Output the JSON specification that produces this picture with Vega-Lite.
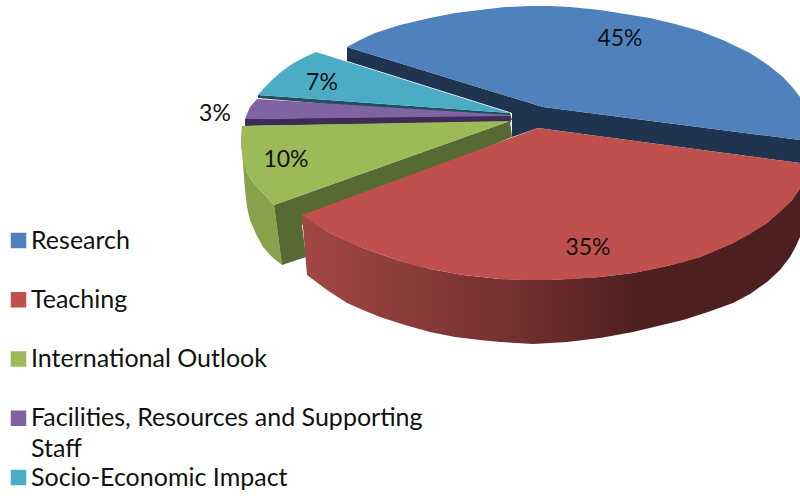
{
  "$schema": "https://vega.github.io/schema/vega-lite/v6.json",
  "width": 800,
  "height": 496,
  "padding": 0,
  "autosize": {"type": "none"},
  "background": "white",
  "view": {"stroke": null},
  "datasets": {
    "sides": [
      {"part":"blueCut","seq":1,"px":347,"py":47},{"part":"blueCut","seq":2,"px":543,"py":107},{"part":"blueCut","seq":3,"px":800,"py":140},{"part":"blueCut","seq":4,"px":800,"py":163},{"part":"blueCut","seq":5,"px":538,"py":128},{"part":"blueCut","seq":6,"px":512,"py":137},{"part":"blueCut","seq":7,"px":512,"py":113},{"part":"blueCut","seq":8,"px":347,"py":61},
      {"part":"tealCut","seq":1,"px":258,"py":95},{"part":"tealCut","seq":2,"px":510,"py":113},{"part":"tealCut","seq":3,"px":512,"py":120},{"part":"tealCut","seq":4,"px":258,"py":98},
      {"part":"purpleCut","seq":1,"px":245,"py":119},{"part":"purpleCut","seq":2,"px":510,"py":115},{"part":"purpleCut","seq":3,"px":511,"py":122},{"part":"purpleCut","seq":4,"px":245,"py":126},
      {"part":"greenOuter","seq":1,"px":242,"py":150},{"part":"greenOuter","seq":2,"px":247,"py":173},{"part":"greenOuter","seq":3,"px":253,"py":182},{"part":"greenOuter","seq":4,"px":260,"py":190},{"part":"greenOuter","seq":5,"px":274,"py":205},{"part":"greenOuter","seq":6,"px":282,"py":265},{"part":"greenOuter","seq":7,"px":272,"py":257},{"part":"greenOuter","seq":8,"px":263,"py":247},{"part":"greenOuter","seq":9,"px":256,"py":234},{"part":"greenOuter","seq":10,"px":250,"py":220},{"part":"greenOuter","seq":11,"px":247,"py":207},{"part":"greenOuter","seq":12,"px":245,"py":190},
      {"part":"greenCut","seq":1,"px":274,"py":205},{"part":"greenCut","seq":2,"px":510,"py":121},{"part":"greenCut","seq":3,"px":512,"py":137},{"part":"greenCut","seq":4,"px":302,"py":225},{"part":"greenCut","seq":5,"px":306,"py":257},{"part":"greenCut","seq":6,"px":282,"py":265}
    ],
    "redWall": [
      {"seq":1,"px":302,"py":215},{"seq":2,"px":330,"py":233},{"seq":3,"px":363,"py":248},{"seq":4,"px":397,"py":260},{"seq":5,"px":430,"py":269},{"seq":6,"px":463,"py":275},{"seq":7,"px":500,"py":279},{"seq":8,"px":550,"py":280},{"seq":9,"px":600,"py":277},{"seq":10,"px":633,"py":273},{"seq":11,"px":667,"py":266},{"seq":12,"px":700,"py":257},{"seq":13,"px":733,"py":243},{"seq":14,"px":767,"py":223},{"seq":15,"px":792,"py":200},{"seq":16,"px":800,"py":188},
      {"seq":17,"px":800,"py":237},{"seq":18,"px":796,"py":246},{"seq":19,"px":790,"py":257},{"seq":20,"px":780,"py":270},{"seq":21,"px":767,"py":282},{"seq":22,"px":750,"py":294},{"seq":23,"px":733,"py":303},{"seq":24,"px":708,"py":312},{"seq":25,"px":683,"py":320},{"seq":26,"px":658,"py":326},{"seq":27,"px":633,"py":332},{"seq":28,"px":600,"py":338},{"seq":29,"px":567,"py":342},{"seq":30,"px":550,"py":343},{"seq":31,"px":533,"py":344},{"seq":32,"px":500,"py":342},{"seq":33,"px":480,"py":340},{"seq":34,"px":455,"py":337},{"seq":35,"px":430,"py":332},{"seq":36,"px":405,"py":325},{"seq":37,"px":380,"py":317},{"seq":38,"px":363,"py":310},{"seq":39,"px":347,"py":303},{"seq":40,"px":327,"py":290},{"seq":41,"px":307,"py":275}
    ],
    "tops": [
      {"slice":"Research","seq":1,"px":347,"py":47},{"slice":"Research","seq":2,"px":360,"py":40},{"slice":"Research","seq":3,"px":375,"py":33},{"slice":"Research","seq":4,"px":400,"py":25},{"slice":"Research","seq":5,"px":430,"py":18},{"slice":"Research","seq":6,"px":455,"py":13},{"slice":"Research","seq":7,"px":480,"py":10},{"slice":"Research","seq":8,"px":505,"py":7},{"slice":"Research","seq":9,"px":530,"py":6},{"slice":"Research","seq":10,"px":550,"py":6},{"slice":"Research","seq":11,"px":570,"py":7},{"slice":"Research","seq":12,"px":600,"py":10},{"slice":"Research","seq":13,"px":625,"py":14},{"slice":"Research","seq":14,"px":650,"py":18},{"slice":"Research","seq":15,"px":675,"py":24},{"slice":"Research","seq":16,"px":700,"py":31},{"slice":"Research","seq":17,"px":725,"py":41},{"slice":"Research","seq":18,"px":750,"py":53},{"slice":"Research","seq":19,"px":768,"py":65},{"slice":"Research","seq":20,"px":783,"py":77},{"slice":"Research","seq":21,"px":793,"py":88},{"slice":"Research","seq":22,"px":800,"py":97},{"slice":"Research","seq":23,"px":800,"py":140},{"slice":"Research","seq":24,"px":543,"py":107},
      {"slice":"Teaching","seq":1,"px":302,"py":215},{"slice":"Teaching","seq":2,"px":538,"py":128},{"slice":"Teaching","seq":3,"px":800,"py":163},{"slice":"Teaching","seq":4,"px":800,"py":188},{"slice":"Teaching","seq":5,"px":792,"py":200},{"slice":"Teaching","seq":6,"px":780,"py":212},{"slice":"Teaching","seq":7,"px":767,"py":223},{"slice":"Teaching","seq":8,"px":750,"py":234},{"slice":"Teaching","seq":9,"px":733,"py":243},{"slice":"Teaching","seq":10,"px":717,"py":250},{"slice":"Teaching","seq":11,"px":700,"py":257},{"slice":"Teaching","seq":12,"px":684,"py":262},{"slice":"Teaching","seq":13,"px":667,"py":266},{"slice":"Teaching","seq":14,"px":650,"py":270},{"slice":"Teaching","seq":15,"px":633,"py":273},{"slice":"Teaching","seq":16,"px":617,"py":275},{"slice":"Teaching","seq":17,"px":600,"py":277},{"slice":"Teaching","seq":18,"px":575,"py":279},{"slice":"Teaching","seq":19,"px":550,"py":280},{"slice":"Teaching","seq":20,"px":525,"py":280},{"slice":"Teaching","seq":21,"px":500,"py":279},{"slice":"Teaching","seq":22,"px":482,"py":277},{"slice":"Teaching","seq":23,"px":463,"py":275},{"slice":"Teaching","seq":24,"px":430,"py":269},{"slice":"Teaching","seq":25,"px":413,"py":265},{"slice":"Teaching","seq":26,"px":397,"py":260},{"slice":"Teaching","seq":27,"px":380,"py":254},{"slice":"Teaching","seq":28,"px":363,"py":248},{"slice":"Teaching","seq":29,"px":346,"py":241},{"slice":"Teaching","seq":30,"px":330,"py":233},{"slice":"Teaching","seq":31,"px":315,"py":224},
      {"slice":"International Outlook","seq":1,"px":510,"py":121},{"slice":"International Outlook","seq":2,"px":242,"py":126},{"slice":"International Outlook","seq":3,"px":241,"py":137},{"slice":"International Outlook","seq":4,"px":241,"py":147},{"slice":"International Outlook","seq":5,"px":243,"py":160},{"slice":"International Outlook","seq":6,"px":247,"py":173},{"slice":"International Outlook","seq":7,"px":253,"py":182},{"slice":"International Outlook","seq":8,"px":260,"py":190},{"slice":"International Outlook","seq":9,"px":274,"py":205},
      {"slice":"Facilities, Resources and Supporting Staff","seq":1,"px":257,"py":99},{"slice":"Facilities, Resources and Supporting Staff","seq":2,"px":250,"py":107},{"slice":"Facilities, Resources and Supporting Staff","seq":3,"px":245,"py":119},{"slice":"Facilities, Resources and Supporting Staff","seq":4,"px":510,"py":116},{"slice":"Facilities, Resources and Supporting Staff","seq":5,"px":510,"py":115},
      {"slice":"Socio-Economic Impact","seq":1,"px":316,"py":52},{"slice":"Socio-Economic Impact","seq":2,"px":303,"py":58},{"slice":"Socio-Economic Impact","seq":3,"px":292,"py":64},{"slice":"Socio-Economic Impact","seq":4,"px":281,"py":72},{"slice":"Socio-Economic Impact","seq":5,"px":272,"py":80},{"slice":"Socio-Economic Impact","seq":6,"px":264,"py":88},{"slice":"Socio-Economic Impact","seq":7,"px":258,"py":95},{"slice":"Socio-Economic Impact","seq":8,"px":510,"py":113}
    ],
    "shares": [
      {"share":0.45,"lx":620,"ly":39},
      {"share":0.35,"lx":588,"ly":248},
      {"share":0.10,"lx":286,"ly":160},
      {"share":0.03,"lx":215,"ly":114},
      {"share":0.07,"lx":322,"ly":83}
    ],
    "wrapped": [{"word":"Staff","lx":31,"ly":449}]
  },
  "encoding": {
    "x": {"type":"quantitative","scale":{"domain":[0,800],"nice":false},"axis":null},
    "y": {"type":"quantitative","scale":{"domain":[496,0],"nice":false},"axis":null}
  },
  "layer": [
    {
      "data": {"name":"sides"},
      "mark": {"type":"line","filled":true,"strokeWidth":0},
      "encoding": {
        "x": {"field":"px"},
        "y": {"field":"py"},
        "order": {"field":"seq","type":"quantitative"},
        "color": {"field":"part","type":"nominal","legend":null,
          "scale":{"domain":["blueCut","tealCut","purpleCut","greenOuter","greenCut"],"range":["#1f344e","#1f5060","#3d2c55","#86a34c","#576a33"]}}
      }
    },
    {
      "data": {"name":"redWall"},
      "mark": {"type":"line","filled":true,"strokeWidth":0,
        "fill":{"gradient":"linear","x1":0,"x2":1,"y1":0,"y2":0,
          "stops":[{"offset":0,"color":"#a34746"},{"offset":0.45,"color":"#6f2f2d"},{"offset":0.68,"color":"#4e2020"},{"offset":1,"color":"#4d1f1f"}]}},
      "encoding": {
        "x": {"field":"px"},
        "y": {"field":"py"},
        "order": {"field":"seq","type":"quantitative"}
      }
    },
    {
      "data": {"name":"tops"},
      "mark": {"type":"line","filled":true,"strokeWidth":0},
      "encoding": {
        "x": {"field":"px"},
        "y": {"field":"py"},
        "order": {"field":"seq","type":"quantitative"},
        "color": {"field":"slice","type":"nominal",
          "scale":{"domain":["Research","Teaching","International Outlook","Facilities, Resources and Supporting Staff","Socio-Economic Impact"],
            "range":["#4f81bd","#c0504d","#9bbb59","#8064a2","#4bacc6"]},
          "legend":{"title":null,"orient":"none","legendX":6,"legendY":228,"symbolType":"square","symbolSize":240,"symbolStrokeWidth":0,"symbolOpacity":1,
            "labelFont":"Lato","labelFontSize":25,"labelColor":"#111111","labelLimit":420,"labelOffset":0,"rowPadding":33.25,"padding":0,
            "labelExpr":"replace(datum.label,' Staff','')"}
        }
      }
    },
    {
      "data": {"name":"shares"},
      "mark": {"type":"text","font":"Lato","fontSize":23,"color":"#111111"},
      "encoding": {
        "x": {"field":"lx"},
        "y": {"field":"ly"},
        "text": {"field":"share","type":"quantitative","format":".0%"}
      }
    },
    {
      "data": {"name":"wrapped"},
      "mark": {"type":"text","font":"Lato","fontSize":25,"color":"#111111","align":"left"},
      "encoding": {
        "x": {"field":"lx"},
        "y": {"field":"ly"},
        "text": {"field":"word"}
      }
    }
  ],
  "resolve": {"scale":{"color":"independent"}}
}
